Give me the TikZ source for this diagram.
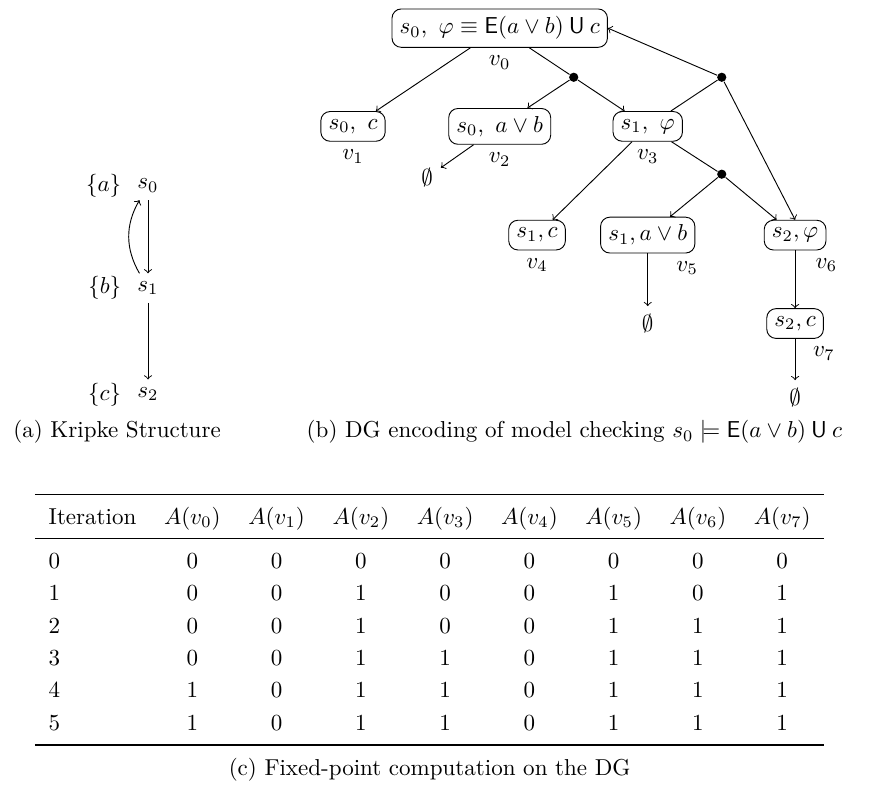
\documentclass[tikz,border=0pt]{standalone}
\usepackage{amsmath,amssymb}
\usepackage{booktabs}

\begin{document}
\begin{tikzpicture}[
                vbox/.style={
                  draw,
                  rounded corners=4pt,
                },
                dot/.style={
                  circle,
                  fill,
                  inner sep=0pt,
                  minimum size=4pt,
                },
                vlab/.style={
                  anchor=north,
                },
              ]
              \useasboundingbox (0,0) rectangle (13.36,12.02);
              % Kripke structure
              \node at (2.26,9.19) (s0) [label=left:$\{a\}$] {$s_0$} ;
              \node at (2.26,7.62) (s1) [label=left:$\{b\}$] {$s_1$} ;
              \node at (2.26,6.00) (s2) [label=left:$\{c\}$] {$s_2$} ;
              \draw[->] (s0)--(s1) ;
              \draw[->] (s1)--(s2) ;
              \draw[->] (s1) to[bend left=30] (s0) ;
              % dependency graph
              \node[vbox] at (7.63,11.59) (v0) [label=below:$v_0$]
                {$s_0,\ \varphi \equiv \mathsf{E}(a \vee b) \mathbin{\mathsf{U}} c$} ;
              \node[dot] at (8.76,10.84) (d1) {} ;
              \node[vbox] at (5.39,10.09) (v1) [label=below:$v_1$] {$s_0,\ c$} ;
              \node[vbox] at (7.63,10.09) (v2) [label=below:$v_2$] {$s_0,\ a \vee b$} ;
              \node[vbox] at (9.89,10.09) (v3) [label=below:$v_3$] {$s_1,\ \varphi$} ;
              \node[dot] at (11.02,10.84) (d2) {} ;
              \node[dot] at (11.02,9.36) (d3) {} ;
              \node at (6.52,9.31) (e2) {$\emptyset$} ;
              \node[vbox] at (8.20,8.43) (v4) [label=below:$v_4$] {$s_1, c$} ;
              \node[vbox] at (9.89,8.43) (v5) [label={[vlab]-25:$v_5$}] {$s_1, a \vee b$} ;
              \node[vbox] at (12.14,8.43) (v6) [label={[vlab]south east:$v_6$}] {$s_2, \varphi$} ;
              \node at (9.89,7.08) (e5) {$\emptyset$} ;
              \node[vbox] at (12.14,7.08) (v7) [label={[vlab]south east:$v_7$}] {$s_2, c$} ;
              \node at (12.14,5.95) (e7) {$\emptyset$} ;
              \draw[->] (v0)--(v1) ;
              \draw (v0)--(d1) ;
              \draw[->] (d1)--(v2) ;
              \draw[->] (d1)--(v3) ;
              \draw[->] (v2)--(e2) ;
              \draw (v3)--(d2) ;
              \draw[->] (d2)--(v0.east) ;
              \draw[->] (d2)--(v6.north) ;
              \draw[->] (v3)--(v4) ;
              \draw (v3)--(d3) ;
              \draw[->] (d3)--(v5) ;
              \draw[->] (d3)--(v6) ;
              \draw[->] (v5)--(e5) ;
              \draw[->] (v6)--(v7) ;
              \draw[->] (v7)--(e7) ;
              % captions
              \node[anchor=west] at (0.08,5.42) (capa) {(a) Kripke Structure} ;
              \node[anchor=east] at (12.98,5.42) (capb)
                {(b) DG encoding of model checking $s_0 \models \mathsf{E}(a \vee b) \mathbin{\mathsf{U}} c$} ;
              % fixed-point table
              \node[inner sep=0pt] at (6.56,2.56) (tab) {%
                \renewcommand{\arraystretch}{1.17}%
                \begin{tabular}{lcccccccc}
                  \toprule
                  Iteration & $A(v_0)$ & $A(v_1)$ & $A(v_2)$ & $A(v_3)$ & $A(v_4)$ & $A(v_5)$ & $A(v_6)$ & $A(v_7)$ \\
                  \midrule
                  0 & 0 & 0 & 0 & 0 & 0 & 0 & 0 & 0 \\
                  1 & 0 & 0 & 1 & 0 & 0 & 1 & 0 & 1 \\
                  2 & 0 & 0 & 1 & 0 & 0 & 1 & 1 & 1 \\
                  3 & 0 & 0 & 1 & 1 & 0 & 1 & 1 & 1 \\
                  4 & 1 & 0 & 1 & 1 & 0 & 1 & 1 & 1 \\
                  5 & 1 & 0 & 1 & 1 & 0 & 1 & 1 & 1 \\
                  \bottomrule
                \end{tabular}} ;
              \node at (6.56,0.26) (capc) {(c) Fixed-point computation on the DG} ;
              \end{tikzpicture}
\end{document}
